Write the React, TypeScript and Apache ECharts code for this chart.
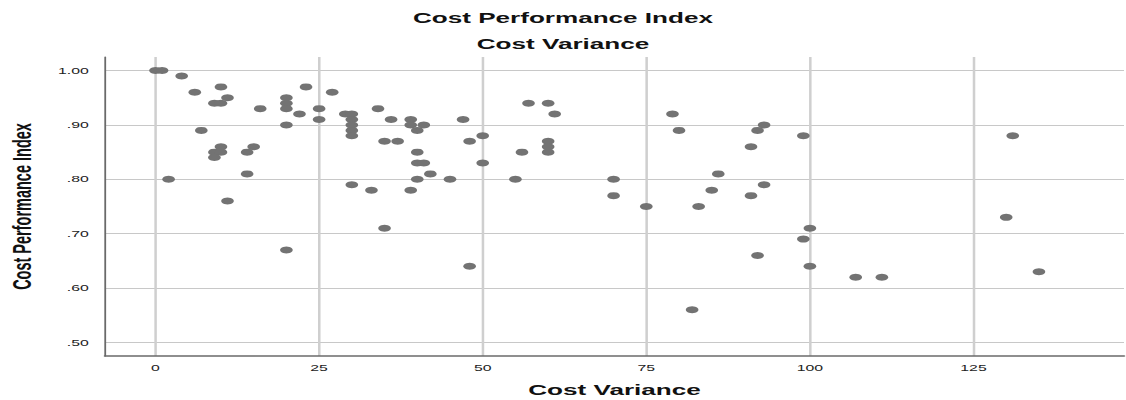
import React, { useEffect, useRef } from "react";
import * as echarts from "echarts";

// Cost Variance (x) and Cost Performance Index (y), one entry per case
const cvValues = [
  0, 1, 4, 10, 6, 11, 9, 10, 16, 20, 20, 20, 22, 23, 27, 25, 25, 29, 20, 7,
  10, 9, 10, 9, 15, 14, 14, 2, 11, 20,
  30, 30, 30, 30, 30, 34, 36, 39, 39, 41, 40, 47, 35, 37, 48, 50, 40, 40, 41, 42,
  40, 45, 50, 30, 33, 39, 57, 60, 61, 56, 55, 60, 60, 60, 35, 48,
  79, 80, 93, 92, 99, 91, 86, 70, 70, 75, 83, 85, 93, 91, 100, 99, 92, 100, 82,
  131, 107, 111, 130, 135,
];
const cpiValues = [
  1.0, 1.0, 0.99, 0.97, 0.96, 0.95, 0.94, 0.94, 0.93, 0.95, 0.94, 0.93, 0.92, 0.97, 0.96, 0.93, 0.91, 0.92, 0.9, 0.89,
  0.86, 0.85, 0.85, 0.84, 0.86, 0.85, 0.81, 0.8, 0.76, 0.67,
  0.92, 0.91, 0.9, 0.89, 0.88, 0.93, 0.91, 0.91, 0.9, 0.9, 0.89, 0.91, 0.87, 0.87, 0.87, 0.88, 0.85, 0.83, 0.83, 0.81,
  0.8, 0.8, 0.83, 0.79, 0.78, 0.78, 0.94, 0.94, 0.92, 0.85, 0.8, 0.87, 0.86, 0.85, 0.71, 0.64,
  0.92, 0.89, 0.9, 0.89, 0.88, 0.86, 0.81, 0.8, 0.77, 0.75, 0.75, 0.78, 0.79, 0.77, 0.71, 0.69, 0.66, 0.64, 0.56,
  0.88, 0.62, 0.62, 0.73, 0.63,
];

const xTicks = [0, 25, 50, 75, 100, 125];
const yTicks = [0.5, 0.6, 0.7, 0.8, 0.9, 1.0];

const chartTitle = "Cost Performance Index";
const chartSubtitle = "Cost Variance";
const xName = "Cost Variance";
const yName = "Cost Performance Index";

const W = 626;
const H = 400;
const STRETCH = 1126 / W;

export default function App() {
  const ref = useRef<HTMLDivElement>(null);

  useEffect(() => {
    if (!ref.current) return;
    const chart = echarts.init(ref.current, undefined, { renderer: "svg" });
    const font = "'Liberation Sans', Arial, sans-serif";
    const data = cvValues.map((x, i) => [x, cpiValues[i]]);
    chart.setOption({
      animation: false,
      backgroundColor: "#ffffff",
      title: [
        {
          text: chartTitle,
          left: "center",
          top: 10,
          padding: 0,
          textStyle: { fontFamily: font, fontSize: 14.5, fontWeight: "bold", color: "#111" },
        },
        {
          text: chartSubtitle,
          left: "center",
          top: 36,
          padding: 0,
          textStyle: { fontFamily: font, fontSize: 14.5, fontWeight: "bold", color: "#111" },
        },
      ],
      grid: {
        left: 105 / STRETCH,
        right: W - 1124 / STRETCH,
        top: 57,
        bottom: 44,
        containLabel: false,
        outerBoundsMode: "none",
      },
      xAxis: {
        type: "value",
        min: -7.72,
        max: 148,
        name: xName,
        nameLocation: "middle",
        nameGap: 26,
        nameTextStyle: { fontFamily: font, fontSize: 14.5, fontWeight: "bold", color: "#111" },
        axisLine: { show: true, onZero: false, lineStyle: { color: "#6a6a6a", width: 1.5 } },
        axisTick: { show: false, customValues: xTicks },
        axisLabel: {
          customValues: xTicks,
          margin: 7,
          fontFamily: font,
          fontSize: 8.8,
          color: "#222",
        },
        splitLine: { show: true, lineStyle: { color: "#cfcfcf", width: 1.4 } },
      },
      yAxis: {
        type: "value",
        min: 0.475,
        max: 1.025,
        name: yName,
        nameLocation: "middle",
        nameRotate: 90,
        nameGap: 39,
        nameTextStyle: { fontFamily: font, fontSize: 14.5, fontWeight: "bold", color: "#111" },
        axisLine: { show: true, onZero: false, lineStyle: { color: "#6a6a6a", width: 1 } },
        axisTick: { show: false, customValues: yTicks },
        axisLabel: {
          customValues: yTicks,
          margin: 9,
          fontFamily: font,
          fontSize: 8.8,
          color: "#222",
          formatter: (v: number) => v.toFixed(2).replace(/^0/, ""),
        },
        splitLine: { show: true, lineStyle: { color: "#c8c8c8", width: 1 } },
      },
      series: [
        {
          type: "scatter",
          data,
          symbol: "circle",
          symbolSize: 7,
          itemStyle: { color: "#737373", opacity: 1 },
        },
      ],
    });
    return () => chart.dispose();
  }, []);

  return (
    <div style={{ position: "absolute", left: 0, top: 0, width: 1126, height: H, overflow: "hidden", background: "#fff" }}>
      <div
        ref={ref}
        style={{
          width: W,
          height: H,
          transform: `scaleX(${STRETCH})`,
          transformOrigin: "0 0",
        }}
      />
    </div>
  );
}
